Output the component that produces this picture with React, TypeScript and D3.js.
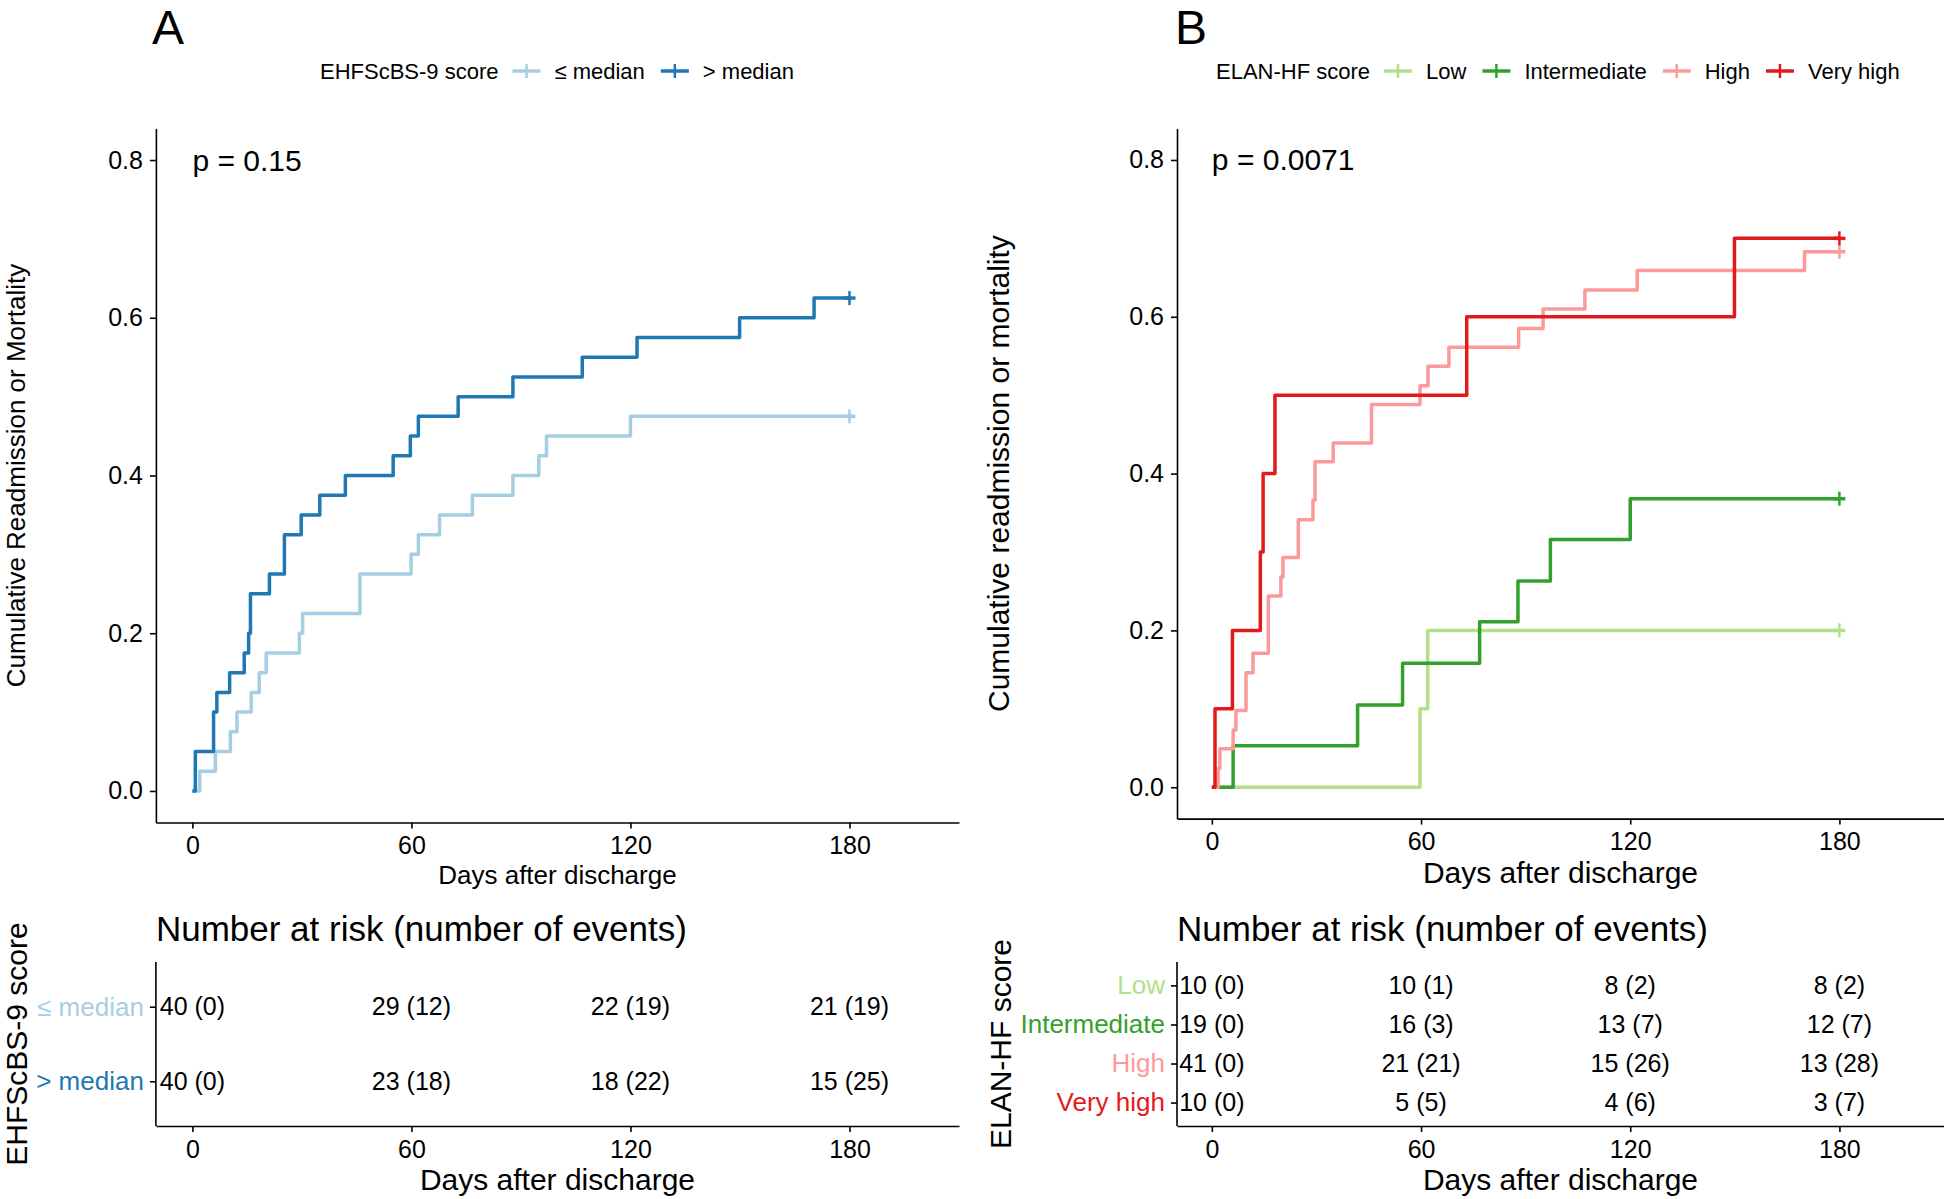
import * as d3 from "d3";
import { useEffect, useRef } from "react";

const FONT = "'Liberation Sans', Arial, sans-serif";

// ---------- panel A : EHFScBS-9 score ----------
const ehfsGroups = ["≤ median", "> median"];
const ehfsColors = ["#a6cee3", "#1f78b4"];

// step curve: day of each step and cumulative readmission / mortality after it
const ehfsLowDays = [0, 2.0, 6.3, 10.4, 12.2, 16.1, 18.3, 20.2, 29.3, 30.2, 45.9, 59.9, 61.9, 67.7, 76.7, 87.8, 94.9, 97.0, 120.0, 180];
const ehfsLowRisk = [0, 0.025, 0.05, 0.075, 0.1, 0.125, 0.15, 0.175, 0.2, 0.225, 0.275, 0.3, 0.325, 0.35, 0.375, 0.4, 0.425, 0.45, 0.475, 0.475];
const ehfsHighDays = [0, 0.8, 5.8, 6.7, 10.2, 14.2, 15.4, 15.9, 21.1, 25.2, 29.8, 34.9, 41.9, 55.0, 59.7, 61.9, 72.8, 87.8, 106.8, 121.8, 149.9, 170.3, 180];
const ehfsHighRisk = [0, 0.05, 0.1, 0.125, 0.15, 0.175, 0.2, 0.25, 0.275, 0.325, 0.35, 0.375, 0.4, 0.425, 0.45, 0.475, 0.5, 0.525, 0.55, 0.575, 0.6, 0.625, 0.625];

const ehfsAtRisk = [
  [40, 29, 22, 21],
  [40, 23, 18, 15],
];
const ehfsEvents = [
  [0, 12, 19, 19],
  [0, 18, 22, 25],
];

// ---------- panel B : ELAN-HF score ----------
const elanGroups = ["Low", "Intermediate", "High", "Very high"];
const elanColors = ["#b2df8a", "#33a02c", "#fb9a99", "#e31a1c"];

const elanLowDays = [0, 59.7, 61.9, 180];
const elanLowRisk = [0, 0.1, 0.2, 0.2];
const elanInterDays = [0, 6.1, 41.8, 54.7, 76.8, 87.8, 97.1, 120.0, 180];
const elanInterRisk = [0, 0.053, 0.105, 0.158, 0.211, 0.263, 0.316, 0.368, 0.368];
const elanHighDays = [0, 1.8, 2.3, 6.1, 6.9, 9.8, 11.8, 16.2, 19.8, 20.4, 24.8, 29.0, 29.6, 34.8, 45.8, 59.7, 62.0, 68.0, 88.0, 95.0, 107.0, 122.0, 170.0, 180];
const elanHighRisk = [0, 0.024, 0.049, 0.073, 0.098, 0.146, 0.171, 0.244, 0.268, 0.293, 0.341, 0.366, 0.415, 0.439, 0.488, 0.512, 0.537, 0.561, 0.585, 0.61, 0.634, 0.659, 0.683, 0.683];
const elanVeryDays = [0, 0.9, 5.9, 13.9, 14.7, 18.1, 73.1, 149.9, 180];
const elanVeryRisk = [0, 0.1, 0.2, 0.3, 0.4, 0.5, 0.6, 0.7, 0.7];

const elanAtRisk = [
  [10, 10, 8, 8],
  [19, 16, 13, 12],
  [41, 21, 15, 13],
  [10, 5, 4, 3],
];
const elanEvents = [
  [0, 1, 2, 2],
  [0, 3, 7, 7],
  [0, 21, 26, 28],
  [0, 5, 6, 7],
];

const dayTicks = [0, 60, 120, 180];
const riskTicks = [0, 0.2, 0.4, 0.6, 0.8];

const zipSteps = (days, risk) => days.map((d, i) => [d, risk[i]]);

const drawPanel = (svg, p) => {
  const x = d3.scaleLinear().domain([-10, 210]).range(p.xRange);
  const y = d3.scaleLinear().domain([-0.04, 0.84]).range(p.yRange);
  const g = svg.append("g").attr("font-family", FONT).attr("fill", "black");

  // panel letter
  g.append("text").attr("x", p.letterX).attr("y", 44).attr("font-size", 48).text(p.letter);

  // legend on top
  const ly = 71;
  let cx = p.legendX;
  const title = g.append("text").attr("x", cx).attr("y", ly).attr("dy", "0.35em").attr("font-size", 22).text(p.legendTitle);
  cx += title.node().getComputedTextLength() + 14;
  p.groups.forEach((name, i) => {
    g.append("line").attr("x1", cx).attr("x2", cx + 28).attr("y1", ly).attr("y2", ly)
      .attr("stroke", p.colors[i]).attr("stroke-width", 3.5);
    g.append("line").attr("x1", cx + 14).attr("x2", cx + 14).attr("y1", ly - 7).attr("y2", ly + 7)
      .attr("stroke", p.colors[i]).attr("stroke-width", 2.5);
    cx += 42;
    const t = g.append("text").attr("x", cx).attr("y", ly).attr("dy", "0.35em").attr("font-size", 22).text(name);
    cx += t.node().getComputedTextLength() + 16;
  });

  // axes of the curve plot
  const xAxis = g.append("g")
    .attr("transform", `translate(0,${p.yRange[0]})`)
    .call(d3.axisBottom(x).tickValues(dayTicks).tickSize(6).tickSizeOuter(0).tickPadding(8));
  const yAxis = g.append("g")
    .attr("transform", `translate(${p.xRange[0]},0)`)
    .call(d3.axisLeft(y).tickValues(riskTicks).tickFormat(d3.format(".1f")).tickSize(6).tickSizeOuter(0).tickPadding(7));
  [xAxis, yAxis].forEach((a) => {
    a.attr("font-size", 25).attr("font-family", FONT);
    a.selectAll("path, line").attr("stroke", "black").attr("stroke-width", 1.6);
    a.selectAll("text").attr("fill", "black");
  });

  // step curves, last group drawn on top
  const line = d3.line().x((d) => x(d[0])).y((d) => y(d[1])).curve(d3.curveStepAfter);
  p.series.forEach((s, i) => {
    g.append("path").datum(s).attr("d", line).attr("fill", "none")
      .attr("stroke", p.colors[i]).attr("stroke-width", 3.5).attr("stroke-linejoin", "round");
    const last = s[s.length - 1];
    g.append("line").attr("x1", x(last[0])).attr("x2", x(last[0]))
      .attr("y1", y(last[1]) - 7).attr("y2", y(last[1]) + 7)
      .attr("stroke", p.colors[i]).attr("stroke-width", 2.5);
    g.append("line").attr("x1", x(last[0]) - 6).attr("x2", x(last[0]) + 6)
      .attr("y1", y(last[1])).attr("y2", y(last[1]))
      .attr("stroke", p.colors[i]).attr("stroke-width", 3.5);
  });

  // p value
  g.append("text").attr("x", x(0)).attr("y", y(0.8)).attr("dy", "0.35em").attr("font-size", 30).text(p.pval);

  // axis titles
  const midX = (p.xRange[0] + p.xRange[1]) / 2;
  g.append("text").attr("x", midX).attr("y", p.xTitleY).attr("text-anchor", "middle")
    .attr("font-size", p.titleSize).text("Days after discharge");
  g.append("text").attr("transform", `translate(${p.yTitleX},${(p.yRange[0] + p.yRange[1]) / 2}) rotate(-90)`)
    .attr("text-anchor", "middle").attr("font-size", p.titleSize).text(p.yTitle);

  // ---- number at risk table ----
  const tTop = 962;
  const tBottom = 1126;
  const ty = d3.scalePoint().domain(p.groups).range([tTop, tBottom]).padding(0.6);
  g.append("text").attr("x", p.xRange[0]).attr("y", 941).attr("font-size", 35)
    .text("Number at risk (number of events)");

  const txAxis = g.append("g")
    .attr("transform", `translate(0,${tBottom})`)
    .call(d3.axisBottom(x).tickValues(dayTicks).tickSize(6).tickSizeOuter(0).tickPadding(8));
  const tyAxis = g.append("g")
    .attr("transform", `translate(${p.xRange[0]},0)`)
    .call(d3.axisLeft(ty).tickSize(6).tickSizeOuter(0).tickPadding(6));
  // axisLeft on a point scale draws its domain from range ends
  tyAxis.select(".domain").attr("d", `M0,${tTop}V${tBottom}`);
  [txAxis, tyAxis].forEach((a) => {
    a.attr("font-size", 25).attr("font-family", FONT);
    a.selectAll("path, line").attr("stroke", "black").attr("stroke-width", 1.6);
    a.selectAll("text").attr("fill", "black");
  });
  tyAxis.selectAll(".tick text").attr("fill", (d, i) => p.colors[i]).attr("font-size", 26);

  p.groups.forEach((name, i) => {
    dayTicks.forEach((day, j) => {
      g.append("text").attr("x", x(day)).attr("y", ty(name)).attr("dy", "0.35em")
        .attr("text-anchor", "middle").attr("font-size", 25)
        .text(`${p.atRisk[i][j]} (${p.events[i][j]})`);
    });
  });

  g.append("text").attr("x", midX).attr("y", 1190).attr("text-anchor", "middle")
    .attr("font-size", 30).text("Days after discharge");
  g.append("text").attr("transform", `translate(${p.yTitleX + 2},${(tTop + tBottom) / 2}) rotate(-90)`)
    .attr("text-anchor", "middle").attr("font-size", 30).text(p.legendTitle);
};

const App = () => {
  const svgRef = useRef(null);

  useEffect(() => {
    const svg = d3.select(svgRef.current);
    svg.selectAll("*").remove();

    drawPanel(svg, {
      letter: "A",
      letterX: 152,
      legendX: 320,
      legendTitle: "EHFScBS-9 score",
      groups: ehfsGroups,
      colors: ehfsColors,
      series: [zipSteps(ehfsLowDays, ehfsLowRisk), zipSteps(ehfsHighDays, ehfsHighRisk)],
      atRisk: ehfsAtRisk,
      events: ehfsEvents,
      pval: "p = 0.15",
      xRange: [155.9, 959],
      yRange: [822.5, 128.5],
      titleSize: 26,
      xTitleY: 884,
      yTitleX: 25,
      yTitle: "Cumulative Readmission or Mortality",
    });

    drawPanel(svg, {
      letter: "B",
      letterX: 1175,
      legendX: 1216,
      legendTitle: "ELAN-HF score",
      groups: elanGroups,
      colors: elanColors,
      series: [
        zipSteps(elanLowDays, elanLowRisk),
        zipSteps(elanInterDays, elanInterRisk),
        zipSteps(elanHighDays, elanHighRisk),
        zipSteps(elanVeryDays, elanVeryRisk),
      ],
      atRisk: elanAtRisk,
      events: elanEvents,
      pval: "p = 0.0071",
      xRange: [1177, 1944],
      yRange: [818.6, 128.6],
      titleSize: 30,
      xTitleY: 883,
      yTitleX: 1009,
      yTitle: "Cumulative readmission or mortality",
    });
  }, []);

  return (
    <div style={{ position: "absolute", left: 0, top: 0 }}>
      <svg ref={svgRef} width={1944} height={1199} style={{ display: "block", background: "white" }} />
    </div>
  );
};

export default App;
